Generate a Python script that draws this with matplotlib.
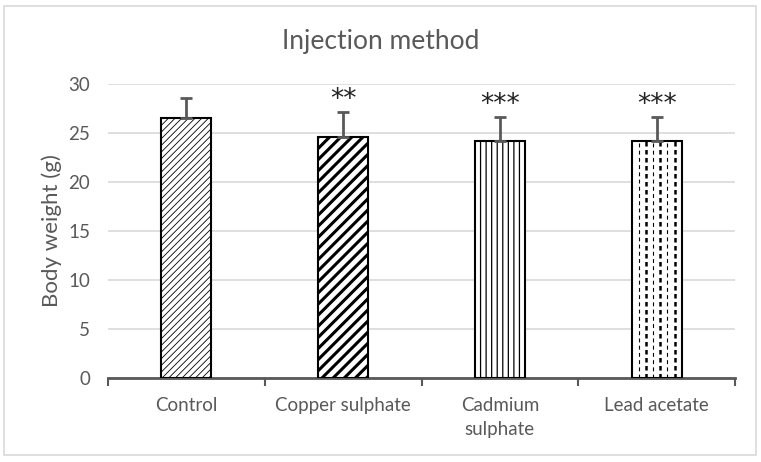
import matplotlib
matplotlib.use("Agg")
import matplotlib.pyplot as plt
import numpy as np
from matplotlib.patches import Rectangle

categories = ["Control", "Copper sulphate", "Cadmium\nsulphate", "Lead acetate"]
weights = [26.5, 24.6, 24.2, 24.2]
errors = [2.1, 2.5, 2.4, 2.4]
stars = ["", "**", "***", "***"]
yticks = [0, 5, 10, 15, 20, 25, 30]

plt.rcParams['font.family'] = ['Lato', 'DejaVu Sans']
grey = "#595959"

fig = plt.figure(figsize=(7.61, 4.62), dpi=100)
fig.patches.append(Rectangle((4 / 761, 1 - 455 / 462), 752 / 761, 449 / 462,
                             transform=fig.transFigure, fill=False,
                             edgecolor="#d9d9d9", linewidth=1.2))
ax = fig.add_axes([108 / 761, 1 - 378 / 462, 627 / 761, 294 / 462])

x = np.arange(len(categories))
width = 0.32
hatches = ["/////", "///", "|||", ""]
hatch_lw = [0.6, 2.2, 0.9, 1.0]

for i in range(len(categories)):
    b = ax.bar(x[i], weights[i], width, color="white", edgecolor="black",
               linewidth=1.5, hatch=hatches[i], zorder=3)[0]
    try:
        b.set_hatch_linewidth(hatch_lw[i])
    except AttributeError:
        pass

# dashed vertical hatch for lead acetate
i = 3
offs = np.linspace(-width / 2, width / 2, 8)[1:-1]
for k, o in enumerate(offs):
    ax.vlines(x[i] + o, 0, weights[i], colors="black",
              linestyles=(0, (1.8, 1.4)) if k % 2 else (0, (3.5, 3)),
              linewidth=1.8 if k % 2 else 0.8, zorder=3)

ax.errorbar(x, weights, yerr=[np.zeros(len(errors)), errors], fmt="none",
            ecolor=grey, elinewidth=2, capsize=4, capthick=2, zorder=4)

for i, s in enumerate(stars):
    if s:
        ax.text(x[i], weights[i] + errors[i] - 0.1, s, ha="center", va="bottom",
                fontsize=19, color="#222222", family="DejaVu Sans")

ax.set_xlim(-0.5, len(categories) - 0.5)
ax.set_ylim(0, 30)
ax.set_yticks(yticks)
ax.grid(axis="y", color="#d9d9d9", linewidth=1.2, zorder=0)
ax.set_axisbelow(True)
for s in ["top", "right", "left"]:
    ax.spines[s].set_visible(False)
ax.spines["bottom"].set_color(grey)
ax.spines["bottom"].set_linewidth(2)

ax.set_xticks(np.arange(-0.5, len(categories), 1.0))
ax.set_xticklabels([])
ax.set_xticks(x, minor=True)
ax.set_xticklabels(categories, minor=True, fontsize=13.5, color=grey,
                   linespacing=1.45)
ax.tick_params(axis="x", which="major", length=6, width=1.5, color=grey)
ax.tick_params(axis="x", which="minor", length=0, pad=14)
ax.tick_params(axis="y", length=0, labelsize=13.5, labelcolor=grey, pad=13)

ax.set_ylabel("Body weight (g)", fontsize=16, color=grey, labelpad=4)
fig.text(0.5, 1 - 42 / 462, "Injection method", ha="center", va="center",
         fontsize=19, color=grey)

fig.savefig("out.png", dpi=100)
